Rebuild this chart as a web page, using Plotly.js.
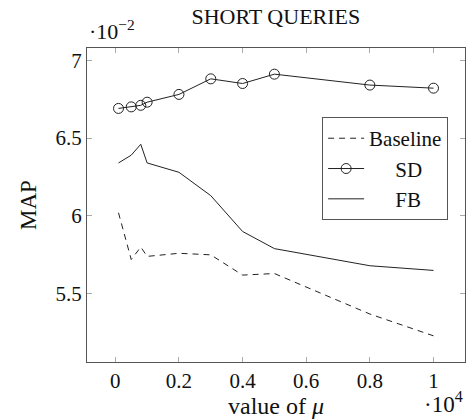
<!DOCTYPE html>
<html>
<head>
<meta charset="utf-8">
<script src="https://cdn.plot.ly/plotly-3.0.1.min.js"></script>
<style>html,body{margin:0;padding:0;background:#fff;}#chart{width:466px;height:419px;}</style>
</head>
<body>
<div id="chart"></div>
<script>
// mu values
const mu = [100, 500, 800, 1000, 2000, 3000, 4000, 5000, 8000, 10000];
// MAP values (x 10^-2)
const baseline = [6.02, 5.72, 5.80, 5.74, 5.76, 5.75, 5.62, 5.63, 5.37, 5.23];
const sd = [6.69, 6.70, 6.71, 6.73, 6.78, 6.88, 6.85, 6.91, 6.84, 6.82];
const fb = [6.34, 6.39, 6.46, 6.34, 6.28, 6.13, 5.90, 5.79, 5.68, 5.65];
const xTickVals = [0, 2000, 4000, 6000, 8000, 10000];
const xTickText = ['0', '0.2', '0.4', '0.6', '0.8', '1'];
const yTickVals = [5.5, 6, 6.5, 7];
const yTickText = ['5.5', '6', '6.5', '7'];

const FONT = 'Liberation Serif, DejaVu Serif, serif';
const traces = [
  {x: mu, y: baseline, name: 'Baseline', mode: 'lines',
   line: {color: '#222', width: 1, dash: '6px,5px'}},
  {x: mu, y: sd, name: '\u00a0\u00a0\u00a0\u00a0\u00a0SD', mode: 'lines+markers',
   line: {color: '#222', width: 1},
   marker: {symbol: 'circle-open', size: 10, color: '#222', line: {width: 1, color: '#222'}}},
  {x: mu, y: fb, name: '\u00a0\u00a0\u00a0\u00a0\u00a0FB', mode: 'lines',
   line: {color: '#222', width: 1}}
];
const axisCommon = {
  showgrid: false, zeroline: false, showline: true, linecolor: '#555', linewidth: 1,
  mirror: 'ticks', ticks: 'inside', ticklen: 5, tickcolor: '#aaa', tickwidth: 1,
  tickfont: {family: FONT, size: 21, color: '#111'}
};
const layout = {
  width: 466, height: 419,
  margin: {l: 87, r: 1, t: 48, b: 57},
  paper_bgcolor: '#fff', plot_bgcolor: '#fff',
  font: {family: FONT, color: '#111'},
  title: {text: 'SHORT QUERIES', font: {family: FONT, size: 22, color: '#111'},
          x: 0.592, xanchor: 'center', y: 0.96, yanchor: 'middle'},
  xaxis: Object.assign({}, axisCommon, {
    range: [-890, 10990], tickvals: xTickVals, ticktext: xTickText,
    title: {text: 'value of <i>μ</i>', font: {family: FONT, size: 24, color: '#111'}, standoff: 2}
  }),
  yaxis: Object.assign({}, axisCommon, {
    range: [5.062, 7.078], tickvals: yTickVals, ticktext: yTickText,
    title: {text: 'MAP', font: {family: FONT, size: 23, color: '#111'}, standoff: 12}
  }),
  showlegend: true,
  legend: {x: 0.622, y: 0.78, xanchor: 'left', yanchor: 'top',
           bordercolor: '#555', borderwidth: 1, bgcolor: '#fff',
           font: {family: FONT, size: 21, color: '#111'}, tracegroupgap: 0,
           itemwidth: 36},
  annotations: [
    {xref: 'paper', yref: 'paper', x: 0, y: 1, xanchor: 'left', yanchor: 'bottom',
     text: '·10<sup>−2</sup>', showarrow: false, yshift: 2,
     font: {family: FONT, size: 22, color: '#111'}},
    {xref: 'paper', yref: 'paper', x: 1, y: 0, xanchor: 'right', yanchor: 'top',
     text: '·10<sup>4</sup>', showarrow: false, yshift: -24,
     font: {family: FONT, size: 23, color: '#111'}}
  ]
};
Plotly.newPlot('chart', traces, layout, {displayModeBar: false, staticPlot: true});
</script>
</body>
</html>
